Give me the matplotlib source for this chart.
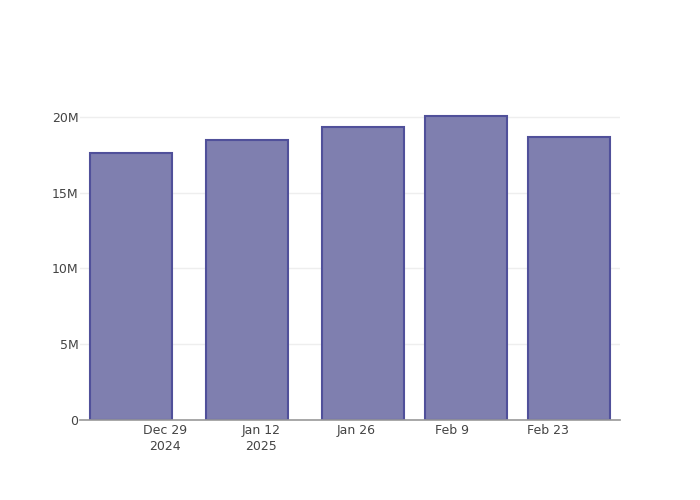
import numpy as np
import matplotlib.pyplot as plt
import matplotlib.dates as mdates
from datetime import datetime, timedelta

# data
periods = ['2024-12-24', '2025-01-10', '2025-01-27', '2025-02-11', '2025-02-26']
values = [17.62e6, 18.48e6, 19.34e6, 20.07e6, 18.68e6]

tick_dates = ['2024-12-29', '2025-01-12', '2025-01-26', '2025-02-09', '2025-02-23']
tick_labels = ['Dec 29\n2024', 'Jan 12\n2025', 'Jan 26', 'Feb 9', 'Feb 23']

ytick_vals = [0, 5e6, 10e6, 15e6, 20e6]
ytick_labels = ['0', '5M', '10M', '15M', '20M']

x = [datetime.strptime(d, '%Y-%m-%d') for d in periods]
xt = [datetime.strptime(d, '%Y-%m-%d') for d in tick_dates]

fig = plt.figure(figsize=(7, 5), dpi=100)
ax = fig.add_axes([80/700, 80/500, 540/700, 320/500])

ax.bar(x, values, width=12, color='#7f7faf', edgecolor='#50509a', linewidth=1.5, zorder=3)

ax.set_xlim(xt[0] - timedelta(days=12.43), xt[0] + timedelta(days=66.5))
ax.set_ylim(0, 21.12e6)

ax.set_xticks(xt)
ax.set_xticklabels(tick_labels, fontsize=9, color='#444444', linespacing=1.3)
ax.set_yticks(ytick_vals)
ax.set_yticklabels(ytick_labels, fontsize=9, color='#444444')
ax.tick_params(axis='both', length=0)
ax.tick_params(axis='y', pad=1)
ax.tick_params(axis='x', pad=3)

ax.grid(axis='y', color='#eeeeee', linewidth=1, zorder=0)
for s in ['top', 'right', 'left']:
    ax.spines[s].set_visible(False)
ax.spines['bottom'].set_color('#999999')
ax.spines['bottom'].set_linewidth(1.2)
ax.spines['bottom'].set_zorder(4)

fig.savefig('out.png', dpi=100)
